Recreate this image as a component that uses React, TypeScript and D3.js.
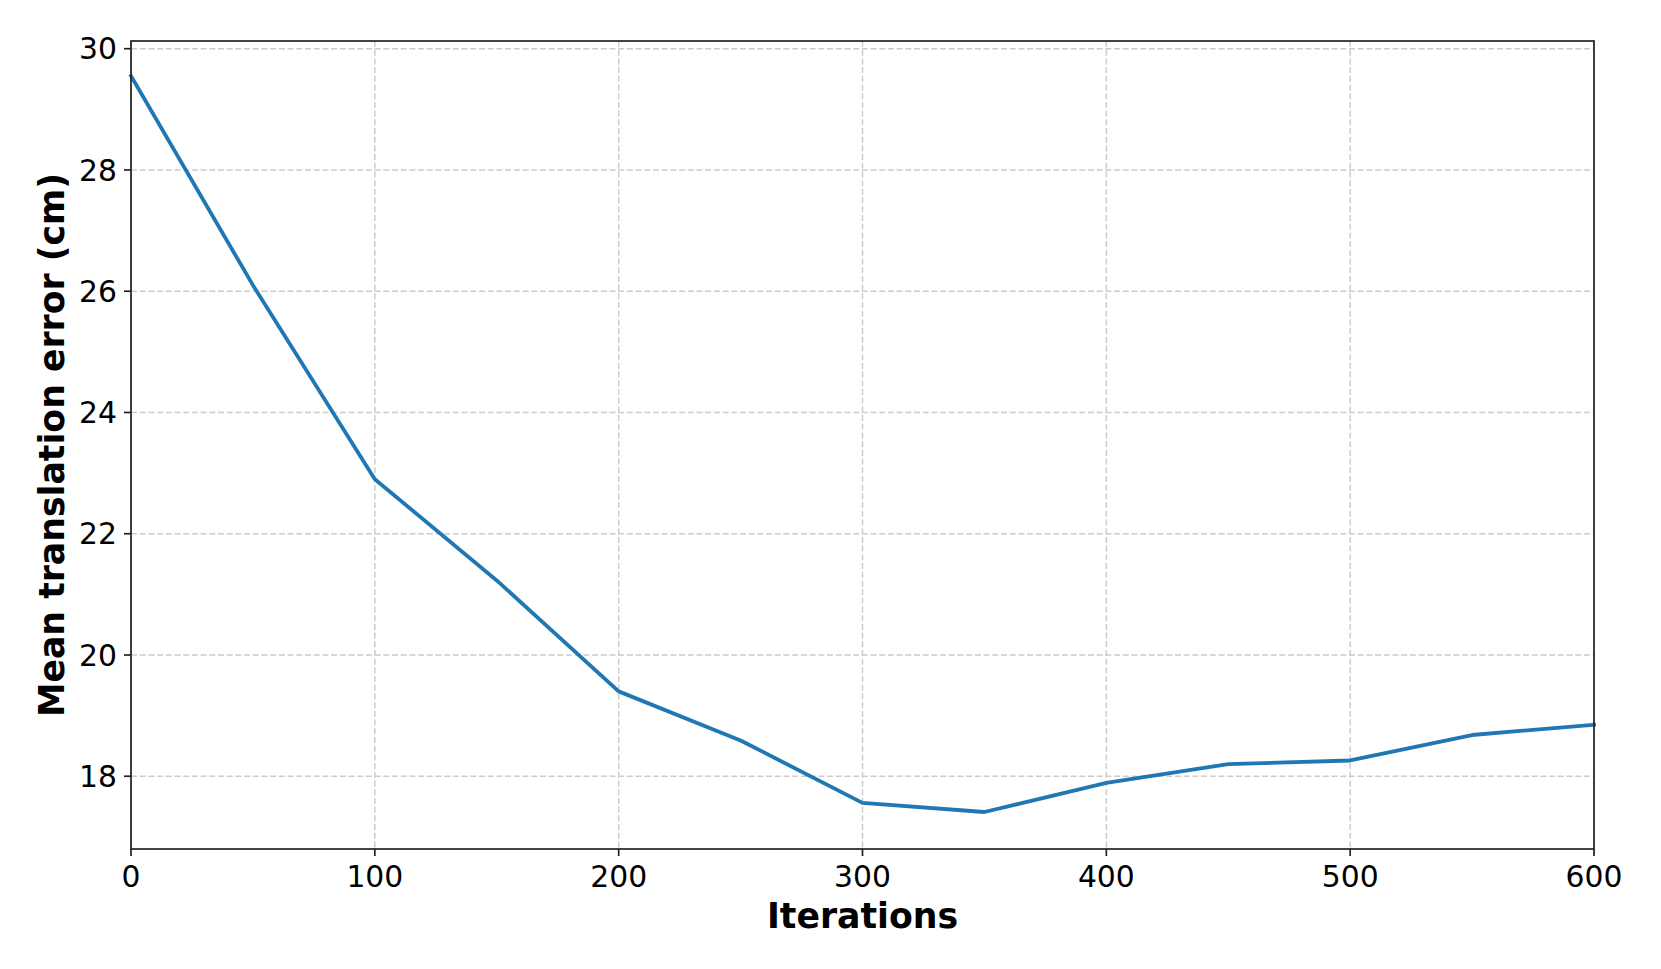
import React from "react";
import * as d3 from "d3";

const iterations = [0, 50, 100, 150, 200, 250, 300, 350, 400, 450, 500, 550, 600];
const meanError = [29.55, 26.1, 22.9, 21.23, 19.4, 18.59, 17.56, 17.41, 17.89, 18.2, 18.26, 18.68, 18.85];
const xTicks = [0, 100, 200, 300, 400, 500, 600];
const yTicks = [18, 20, 22, 24, 26, 28, 30];

const W = 1661;
const H = 969;
const left = 131;
const right = 1594;
const top = 41;
const bottom = 849;

export default function App() {
  const x = d3.scaleLinear().domain([0, 600]).range([left, right]);
  const y = d3.scaleLinear().domain([16.8, 30.127]).range([bottom, top]);
  const line = d3
    .line<number>()
    .x((_, i) => x(iterations[i]))
    .y((d) => y(d));
  const font = "DejaVu Sans, sans-serif";
  return (
    <svg
      width={W}
      height={H}
      style={{ position: "absolute", left: 0, top: 0, background: "#fff" }}
      fontFamily={font}
    >
      <rect x={0} y={0} width={W} height={H} fill="#fff" />
      {xTicks.map((t) => (
        <line key={"gx" + t} x1={x(t)} x2={x(t)} y1={top} y2={bottom} stroke="#cccccc" strokeWidth={1.5} strokeDasharray="6,2.7" />
      ))}
      {yTicks.map((t) => (
        <line key={"gy" + t} x1={left} x2={right} y1={y(t)} y2={y(t)} stroke="#cccccc" strokeWidth={1.5} strokeDasharray="6,2.7" />
      ))}
      <path d={line(meanError) || ""} fill="none" stroke="#1f77b4" strokeWidth={3.8} strokeLinejoin="round" strokeLinecap="square" />
      <rect x={left} y={top} width={right - left} height={bottom - top} fill="none" stroke="#222" strokeWidth={1.7} />
      {xTicks.map((t) => (
        <g key={"tx" + t}>
          <line x1={x(t)} x2={x(t)} y1={bottom} y2={bottom + 7} stroke="#222" strokeWidth={1.7} />
          <text x={x(t)} y={887} textAnchor="middle" fontSize={29.8} fill="#000">
            {t}
          </text>
        </g>
      ))}
      {yTicks.map((t) => (
        <g key={"ty" + t}>
          <line x1={left - 7} x2={left} y1={y(t)} y2={y(t)} stroke="#222" strokeWidth={1.7} />
          <text x={117} y={y(t)} dy="0.36em" textAnchor="end" fontSize={29.8} fill="#000">
            {t}
          </text>
        </g>
      ))}
      <text x={(left + right) / 2} y={928} textAnchor="middle" fontSize={34.7} fontWeight="bold" fill="#000">
        Iterations
      </text>
      <text
        transform={`translate(64, ${(top + bottom) / 2}) rotate(-90)`}
        textAnchor="middle"
        fontSize={34.7}
        fontWeight="bold"
        fill="#000"
      >
        Mean translation error (cm)
      </text>
    </svg>
  );
}
